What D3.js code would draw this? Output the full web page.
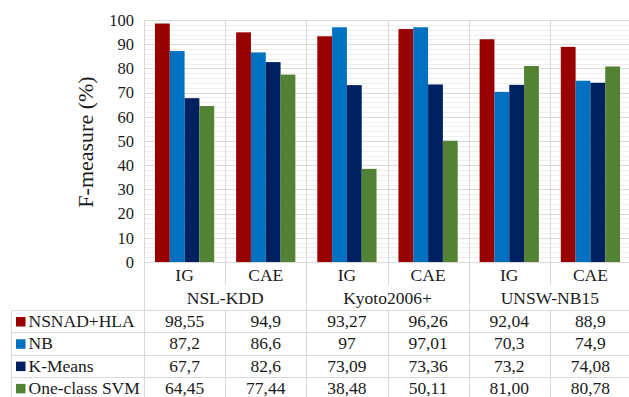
<!DOCTYPE html>
<html>
<head>
<meta charset="utf-8">
<script src="https://cdn.jsdelivr.net/npm/d3@7"></script>
<style>
  html, body { margin: 0; padding: 0; background: #fff; }
  svg { display: block; }
  svg text { font-family: "Liberation Serif", "Times New Roman", Tinos, "DejaVu Serif", serif; }
</style>
</head>
<body>
<div id="chart"></div>
<script>
// data
const datasets = ["NSL-KDD", "Kyoto2006+", "UNSW-NB15"];
const selectors = ["IG", "CAE"];
const seriesNames = ["NSNAD+HLA", "NB", "K-Means", "One-class SVM"];
const seriesColors = ["#990000", "#0070c0", "#002060", "#548235"];
const nsnadHla = ["98,55", "94,9", "93,27", "96,26", "92,04", "88,9"];
const nb = ["87,2", "86,6", "97", "97,01", "70,3", "74,9"];
const kMeans = ["67,7", "82,6", "73,09", "73,36", "73,2", "74,08"];
const ocSvm = ["64,45", "77,44", "38,48", "50,11", "81,00", "80,78"];
const yTicks = [0, 10, 20, 30, 40, 50, 60, 70, 80, 90, 100];

const W = 629, H = 397;
const plotL = 144, plotR = 631, plotT = 20, plotB = 262;
const tableTop = 310, rowH = 22.3, tableLeft = 11;
const grid = "#d9d9d9", minorGrid = "#efefef", ink = "#1a1a1a";

const labelRows = [nsnadHla, nb, kMeans, ocSvm];
const num = s => +s.replace(",", ".");
const cats = [];
datasets.forEach(d => selectors.forEach(s => cats.push(d + "|" + s)));
const bars = [];
labelRows.forEach((row, si) => row.forEach((v, ci) => bars.push({ cat: cats[ci], s: seriesNames[si], v: num(v) })));

const svg = d3.select("#chart").append("svg").attr("width", W).attr("height", H);

const x = d3.scaleBand().domain(cats).range([plotL, plotR]);
const xs = d3.scaleBand().domain(seriesNames).range([0, x.bandwidth()]).paddingOuter(0.74);
const y = d3.scaleLinear().domain([0, 100]).range([plotB, plotT]);
const color = d3.scaleOrdinal().domain(seriesNames).range(seriesColors);
const px = v => Math.round(v) + 0.5;

// minor + major gridlines
svg.append("g").selectAll("line").data(d3.range(0, 100, 2).filter(v => v % 10))
  .join("line")
  .attr("x1", plotL).attr("x2", W).attr("y1", d => px(y(d))).attr("y2", d => px(y(d)))
  .attr("stroke", minorGrid);
svg.append("g").selectAll("line").data(yTicks).join("line")
  .attr("x1", plotL).attr("x2", W).attr("y1", d => px(y(d))).attr("y2", d => px(y(d)))
  .attr("stroke", grid);
// vertical category lines in plot
svg.append("g").selectAll("line").data(cats.slice(1)).join("line")
  .attr("x1", d => px(x(d))).attr("x2", d => px(x(d)))
  .attr("y1", plotT).attr("y2", plotB)
  .attr("stroke", grid);

// bars
svg.append("g").selectAll("rect").data(bars).join("rect")
  .attr("x", d => x(d.cat) + xs(d.s))
  .attr("width", xs.bandwidth())
  .attr("y", d => y(d.v))
  .attr("height", d => y(0) - y(d.v))
  .attr("fill", d => color(d.s));

// y axis labels
const yAxis = d3.axisLeft(y).tickValues(yTicks).tickSize(0).tickPadding(10);
svg.append("g").attr("transform", `translate(${plotL},0)`).call(yAxis)
  .attr("font-family", null)
  .call(g => g.select(".domain").remove())
  .selectAll("text").attr("font-size", 16.5).attr("fill", ink);

svg.append("text")
  .attr("transform", `translate(93,142) rotate(-90)`)
  .attr("text-anchor", "middle").attr("font-size", 22).attr("fill", ink)
  .text("F-measure (%)");

// table lines
const tl = svg.append("g").attr("stroke", grid).attr("fill", "none");
tl.append("line").attr("x1", px(plotL)).attr("x2", px(plotL)).attr("y1", plotT).attr("y2", H);
const groupEdges = datasets.slice(1).map((d, i) => cats[(i + 1) * 2]);
const innerEdges = datasets.map((d, i) => cats[i * 2 + 1]);
tl.selectAll(".ge").data(groupEdges).join("line")
  .attr("x1", d => px(x(d))).attr("x2", d => px(x(d)))
  .attr("y1", plotB).attr("y2", H);
tl.selectAll(".ie1").data(innerEdges).join("line")
  .attr("x1", d => px(x(d))).attr("x2", d => px(x(d)))
  .attr("y1", plotB).attr("y2", 285);
tl.selectAll(".ie2").data(innerEdges).join("line")
  .attr("x1", d => px(x(d))).attr("x2", d => px(x(d)))
  .attr("y1", tableTop).attr("y2", H);
tl.append("line").attr("x1", px(tableLeft)).attr("x2", px(tableLeft)).attr("y1", tableTop).attr("y2", H);
tl.selectAll(".row").data(d3.range(seriesNames.length + 1)).join("line")
  .attr("x1", tableLeft).attr("x2", W)
  .attr("y1", i => px(tableTop + i * rowH))
  .attr("y2", i => px(tableTop + i * rowH));

// category labels
svg.append("g").selectAll("text").data(cats).join("text")
  .attr("x", d => x(d) + x.bandwidth() / 2).attr("y", 281)
  .attr("text-anchor", "middle").attr("font-size", 17.5).attr("fill", ink)
  .text(d => d.split("|")[1]);
svg.append("g").selectAll("text").data(datasets).join("text")
  .attr("x", (d, i) => x(cats[i * 2]) + x.bandwidth())
  .attr("y", 304)
  .attr("text-anchor", "middle").attr("font-size", 17.5).attr("fill", ink)
  .text(d => d);

// table rows
const rows = svg.append("g").selectAll("g").data(seriesNames).join("g")
  .attr("transform", (d, i) => `translate(0,${tableTop + i * rowH})`);
rows.append("rect").attr("x", 16).attr("y", 7).attr("width", 9.5).attr("height", 9.5)
  .attr("fill", d => color(d));
rows.append("text").attr("x", 28.5).attr("y", 17)
  .attr("font-size", 17.5).attr("fill", ink).text(d => d);
rows.each(function(name, si) {
  d3.select(this).selectAll(".v").data(labelRows[si]).join("text")
    .attr("x", (d, ci) => x(cats[ci]) + x.bandwidth() / 2)
    .attr("y", 17)
    .attr("text-anchor", "middle").attr("font-size", 17.5).attr("fill", ink)
    .text(d => d);
});
</script>
</body>
</html>
